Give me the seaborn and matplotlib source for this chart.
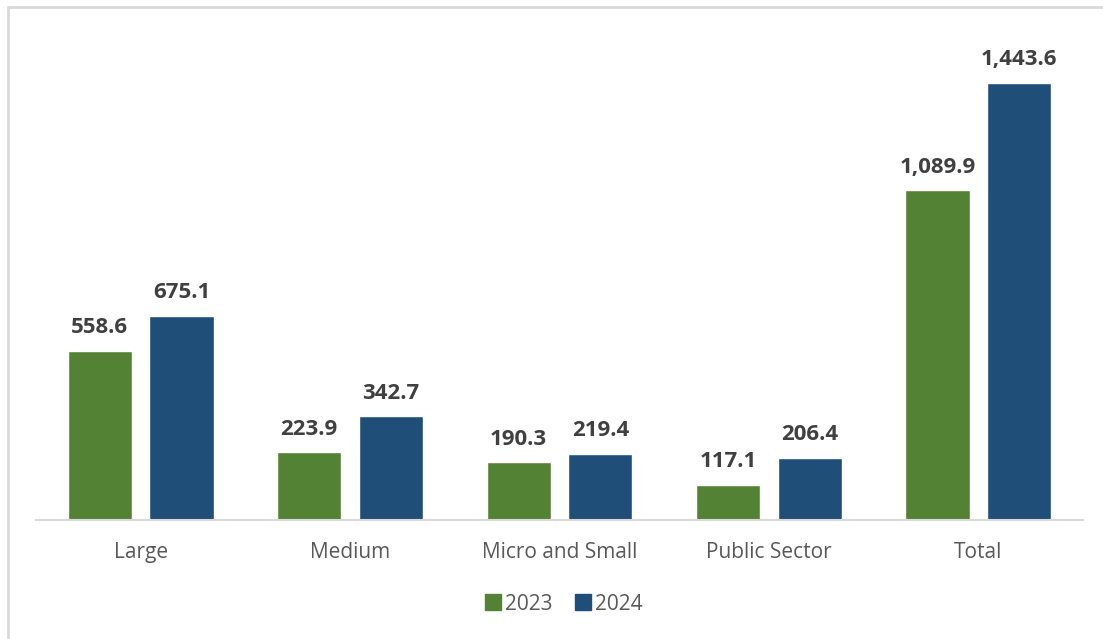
import matplotlib
matplotlib.use("Agg")
import matplotlib.pyplot as plt
from matplotlib.lines import Line2D
import seaborn as sns
import pandas as pd

categories = ["Large", "Medium", "Micro and Small", "Public Sector", "Total"]
years = ["2023", "2024"]
values_2023 = [558.6, 223.9, 190.3, 117.1, 1089.9]
values_2024 = [675.1, 342.7, 219.4, 206.4, 1443.6]

colors = {"2023": "#548235", "2024": "#1F4E79"}

df = pd.DataFrame({
    "category": categories * 2,
    "year": [years[0]] * len(categories) + [years[1]] * len(categories),
    "value": values_2023 + values_2024,
})

sns.set_theme(style="white")
plt.rcParams["font.family"] = ["Open Sans", "DejaVu Sans"]

W, H = 1103, 639
fig = plt.figure(figsize=(W / 100, H / 100), dpi=100)
ax = fig.add_axes([36 / W, (H - 520) / H, (1083 - 36) / W, (520 - 20) / H])

sns.barplot(data=df, x="category", y="value", hue="year", order=categories,
            hue_order=years, palette=colors, width=0.78, gap=0.215,
            saturation=1, ax=ax, legend=False)

ax.set_ylim(0, 500 / (437 / 1443.6))
ax.set_xlim(-0.5, len(categories) - 0.5)
ax.set_xlabel("")
ax.set_ylabel("")
ax.set_yticks([])
for side in ["left", "right", "top"]:
    ax.spines[side].set_visible(False)
ax.spines["bottom"].set_color("#D9D9D9")
ax.spines["bottom"].set_linewidth(1.5)
ax.tick_params(axis="x", length=0, pad=16, labelsize=15, labelcolor="#595959")

for container in ax.containers:
    labels = [f"{b.get_height():,.1f}" for b in container]
    ax.bar_label(container, labels=labels, padding=9, fontsize=16,
                 fontweight="bold", color="#404040")

handles = [Line2D([0], [0], marker="s", linestyle="", markersize=11,
                  markerfacecolor=colors[y], markeredgecolor=colors[y])
           for y in years]
fig.legend(handles, years, loc="center", bbox_to_anchor=(563 / W, 1 - 604 / H),
           ncol=2, frameon=False, fontsize=15, labelcolor="#595959",
           handletextpad=0.15, columnspacing=1.0, handlelength=0.9)

# light frame on the left and top edges
fig.add_artist(Line2D([7.5 / W, 7.5 / W], [0, 1 - 6.5 / H], transform=fig.transFigure,
                      color="#D9D9D9", linewidth=2))
fig.add_artist(Line2D([7.5 / W, 1], [1 - 6.5 / H, 1 - 6.5 / H], transform=fig.transFigure,
                      color="#D9D9D9", linewidth=2))

fig.savefig("out.png", dpi=100, facecolor="white")
